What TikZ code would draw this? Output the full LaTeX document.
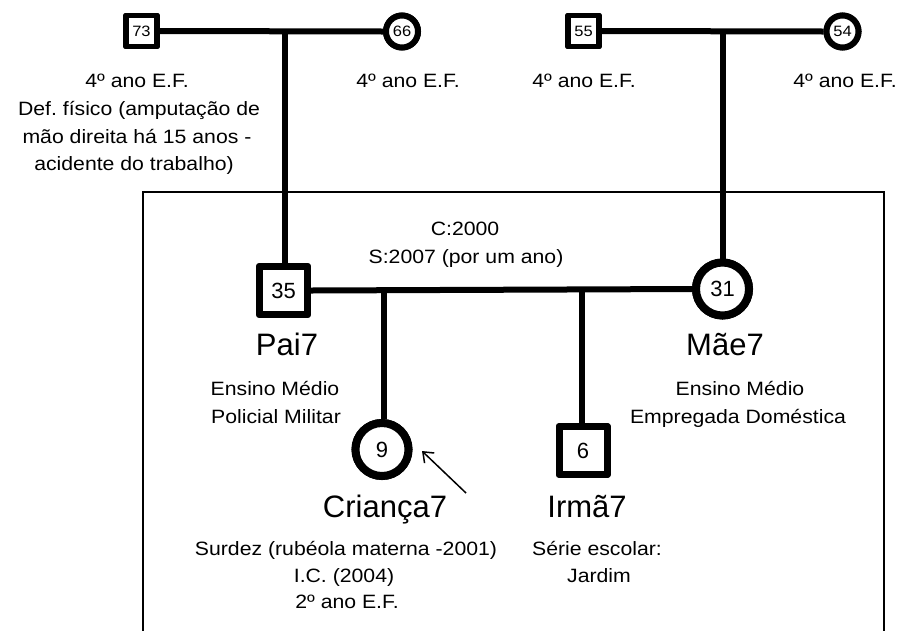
\documentclass[tikz,border=0pt]{standalone}
\usepackage{fontspec}
\setmainfont{Liberation Sans}
\newfontfamily\widesans{Liberation Sans}[FakeStretch=1.1]
\usetikzlibrary{arrows.meta}
\frenchspacing
\tikzset{
  sqbox/.style={draw, fill=white, line width=7pt, line join=round, minimum size=48pt, inner sep=0pt, font=\fontsize{22}{26}\selectfont},
  circbox/.style={draw, fill=white, circle, line width=8pt, minimum size=53pt, inner sep=0pt, font=\fontsize{22}{26}\selectfont},
  ssqbox/.style={draw, fill=white, line width=5.5pt, line join=round, minimum size=31pt, inner sep=0pt, font=\widesans\fontsize{15}{18}\selectfont},
  scircbox/.style={draw, fill=white, circle, line width=6pt, minimum size=32pt, inner sep=0pt, font=\widesans\fontsize{15}{18}\selectfont},
  link/.style={line width=6pt},
  frameline/.style={line width=2pt},
  medtext/.style={font=\widesans\fontsize{19.3}{22}\selectfont, anchor=base, inner sep=0pt},
  bigtext/.style={font=\fontsize{31}{36}\selectfont, anchor=base, inner sep=0pt},
  pointer/.style={line width=1.5pt, -{Straight Barb[length=9pt,width=14pt,line width=1.5pt]}}
}
\begin{document}
\begin{tikzpicture}[x=1pt,y=-1pt]
\useasboundingbox (0,0) rectangle (902,630);
% frame (open at bottom)
\coordinate (r1) at (143,640);
\coordinate (r2) at (143,192);
\coordinate (r3) at (884,192);
\coordinate (r4) at (884,640);
\draw[frameline] (r1) -- (r2) -- (r3) -- (r4);

% grandparents
\node[ssqbox] (g73) at (141.5,31) {73};
\node[scircbox] (g66) at (402,31.5) {66};
\node[ssqbox] (g55) at (583.5,31) {55};
\node[scircbox] (g54) at (842.5,31.5) {54};

% parents and children
\node[sqbox] (pai) at (283.5,290.5) {35};
\node[circbox] (mae) at (722.5,289) {31};
\node[circbox] (crianca) at (382,449.5) {9};
\node[sqbox] (irma) at (583,450.5) {6};

% connectors
\coordinate (d1) at (285,31);
\coordinate (d2) at (723,31);
\coordinate (c1) at (384,291);
\coordinate (c2) at (582,291);
\draw[link] (g73.east) -- (g66.west);
\draw[link] (g55.east) -- (g54.west);
\draw[link] (d1) -- (d1 |- pai.north);
\draw[link] (d2) -- (d2 |- mae.north);
\draw[link] (pai.east) -- (mae.west);
\draw[link] (c1) -- (c1 |- crianca.north);
\draw[link] (c2) -- (c2 |- irma.north);

% redraw symbols on top
\node[ssqbox] at (g73) {73};
\node[scircbox] at (g66) {66};
\node[ssqbox] at (g55) {55};
\node[scircbox] at (g54) {54};
\node[sqbox] at (pai) {35};
\node[circbox] at (mae) {31};
\node[circbox] at (crianca) {9};
\node[sqbox] at (irma) {6};

% arrow
\coordinate (atail) at (466,493);
\coordinate (atip) at (422,451);
\draw[pointer] (atail) -- (atip);

% texts
\node[medtext] (t73a) at (137,87) {4º ano E.F.};
\node[medtext] (t73b) at (139,115) {Def. físico (amputação de};
\node[medtext] (t73c) at (137,143) {mão direita há 15 anos -};
\node[medtext] (t73d) at (134,170) {acidente do trabalho)};
\node[medtext] (t66) at (408,87) {4º ano E.F.};
\node[medtext] (t55) at (584,87) {4º ano E.F.};
\node[medtext] (t54) at (845,87) {4º ano E.F.};

\node[medtext] (tc) at (465,235) {C:2000};
\node[medtext] (ts) at (466,263) {S:2007 (por um ano)};

\node[bigtext] (npai) at (287,355) {Pai7};
\node[medtext] (pai1) at (275,395) {Ensino Médio};
\node[medtext] (pai2) at (276,423) {Policial Militar};

\node[bigtext] (nmae) at (725,355) {Mãe7};
\node[medtext] (mae1) at (740,395) {Ensino Médio};
\node[medtext] (mae2) at (738,423) {Empregada Doméstica};

\node[bigtext] (ncr) at (385,517) {Criança7};
\node[medtext] (cr1) at (346,555) {Surdez (rubéola materna -2001)};
\node[medtext] (cr2) at (344,582) {I.C. (2004)};
\node[medtext] (cr3) at (347,608) {2º ano E.F.};

\node[bigtext] (nir) at (587,517) {Irmã7};
\node[medtext] (ir1) at (597,555) {Série escolar:};
\node[medtext] (ir2) at (599,582) {Jardim};
\end{tikzpicture}
\end{document}
